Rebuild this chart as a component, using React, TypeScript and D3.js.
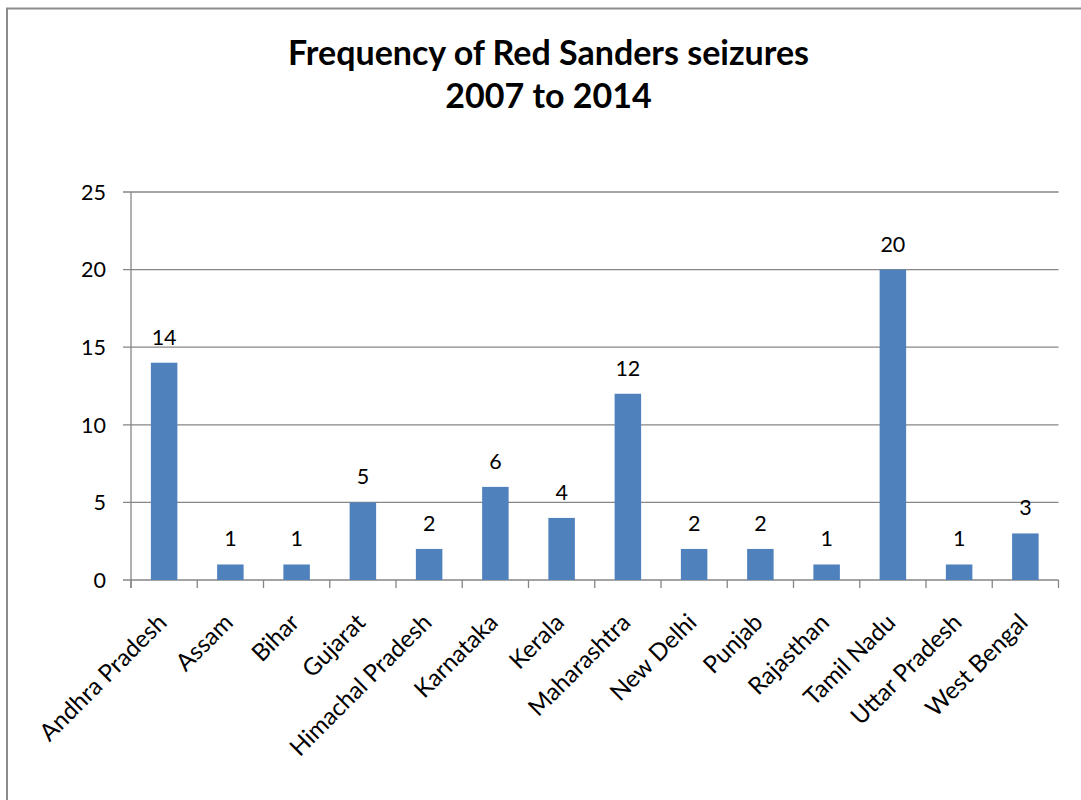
import React from "react";
import * as d3 from "d3";

const categories = [
  "Andhra Pradesh", "Assam", "Bihar", "Gujarat", "Himachal Pradesh", "Karnataka", "Kerala",
  "Maharashtra", "New Delhi", "Punjab", "Rajasthan", "Tamil Nadu", "Uttar Pradesh", "West Bengal",
];
const seizures = [14, 1, 1, 5, 2, 6, 4, 12, 2, 2, 1, 20, 1, 3];
const yTicks = [0, 5, 10, 15, 20, 25];
const titleLines = ["Frequency of Red Sanders seizures", "2007 to 2014"];

const W = 1081;
const H = 800;
const left = 131;
const right = 1058.5;
const top = 192;
const bottom = 580;
const FONT = "Lato, 'Open Sans', sans-serif";
const GRID = "#868686";

export default function App() {
  const x = d3.scaleBand<string>().domain(categories).range([left, right]).paddingInner(0.6).paddingOuter(0.3);
  const y = d3.scaleLinear().domain([0, 25]).range([bottom, top]);
  const band = d3.scaleBand<string>().domain(categories).range([left, right]).padding(0);
  const boundaries = d3.range(categories.length + 1).map((i) => left + i * band.step());

  return (
    <svg width={W} height={H} style={{ position: "absolute", left: 0, top: 0, display: "block", background: "#fff" }}>
      <rect x={7} y={8.5} width={W + 20} height={H + 20} fill="#fff" stroke="#8c8c8c" strokeWidth={2} />
      <g fontFamily={FONT} fontWeight="bold" fontSize={34} textAnchor="middle" fill="#000">
        {titleLines.map((t, i) => (
          <text key={i} x={548.5} y={65 + i * 43}>{t}</text>
        ))}
      </g>
      {yTicks.map((t) => (
        <g key={t}>
          <line x1={123} x2={right} y1={y(t)} y2={y(t)} stroke={GRID} strokeWidth={1.3} />
          <text x={106} y={y(t)} dy="0.36em" textAnchor="end" fontFamily={FONT} fontSize={21.5} fill="#000">{t}</text>
        </g>
      ))}
      <line x1={left} x2={left} y1={top} y2={bottom + 8} stroke={GRID} strokeWidth={1.3} />
      {boundaries.map((b, i) => (
        <line key={i} x1={b} x2={b} y1={bottom} y2={bottom + 8} stroke={GRID} strokeWidth={1.3} />
      ))}
      {categories.map((c, i) => (
        <g key={c}>
          <rect x={x(c)} y={y(seizures[i])} width={x.bandwidth()} height={bottom - y(seizures[i])} fill="#4F81BD" />
          <text x={(x(c) as number) + x.bandwidth() / 2} y={y(seizures[i]) - 18} textAnchor="middle" fontFamily={FONT} fontSize={21.5} fill="#000">{seizures[i]}</text>
          <text
            transform={`translate(${(x(c) as number) + x.bandwidth() / 2 + 4},${bottom + 44}) rotate(-45)`}
            textAnchor="end"
            fontFamily={FONT}
            fontSize={24}
            fill="#000"
          >{c}</text>
        </g>
      ))}
    </svg>
  );
}
